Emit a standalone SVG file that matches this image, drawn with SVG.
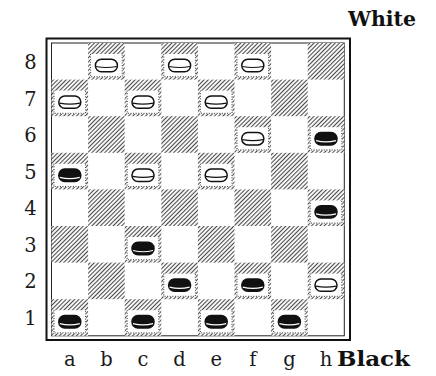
<svg xmlns="http://www.w3.org/2000/svg" width="436" height="376" viewBox="0 0 436 376">
<style>
.lbl{font-family:"DejaVu Serif","Liberation Serif",serif;font-size:19.5px;fill:#1a1a1a;text-anchor:middle}
.ttl{font-family:"DejaVu Serif","Liberation Serif",serif;font-size:20px;font-weight:bold;fill:#111}
.dot{fill:none;stroke:#333;stroke-width:1;stroke-dasharray:1 1.6}
</style>
<defs>
<pattern id="hatch" patternUnits="userSpaceOnUse" width="3" height="3" patternTransform="rotate(45)">
<rect width="3" height="3" fill="#fff"/>
<line x1="1.5" y1="0" x2="1.5" y2="3" stroke="#4a4a4a" stroke-width="1.1"/>
</pattern>
<g id="dk"><rect width="36.6" height="36.6" fill="url(#hatch)"/></g>
<g id="oc">
<rect width="36.6" height="36.6" fill="url(#hatch)"/>
<rect x="2" y="11" width="32.6" height="23.2" fill="#fff"/>
<path class="dot" d="M2.5,11 V33.7 H34.1 V11"/>
</g>
<g id="wp">
<rect x="-11" y="-6.2" width="22" height="12.4" rx="6" fill="#fff" stroke="#111" stroke-width="1.5"/>
<path d="M-10.3,1 Q0,3 10.3,1" fill="none" stroke="#111" stroke-width="1.2"/>
</g>
<g id="bp">
<rect x="-11" y="-6.2" width="22" height="12.4" rx="6" fill="#111" stroke="#111" stroke-width="1.5"/>
<path d="M-10,2 Q0,4.5 10,2" fill="none" stroke="#fff" stroke-width="1.2"/>
</g>
</defs>
<rect width="436" height="376" fill="#fff"/>
<text class="ttl" x="348" y="26" textLength="68" lengthAdjust="spacingAndGlyphs">White</text>
<g id="board">
<rect x="46.5" y="38.5" width="303.5" height="301.5" fill="#fff" stroke="#111" stroke-width="2"/>
<rect x="51.5" y="43" width="292.8" height="292.8" fill="#fff" stroke="#222" stroke-width="1"/>
</g>
<g id="squares">
<g id="b8" transform="translate(88.1,43)"><use href="#oc"/><use href="#wp" x="18.3" y="22.5"/></g>
<g id="d8" transform="translate(161.3,43)"><use href="#oc"/><use href="#wp" x="18.3" y="22.5"/></g>
<g id="f8" transform="translate(234.5,43)"><use href="#oc"/><use href="#wp" x="18.3" y="22.5"/></g>
<g id="h8" transform="translate(307.7,43)"><use href="#dk"/></g>
<g id="a7" transform="translate(51.5,79.6)"><use href="#oc"/><use href="#wp" x="18.3" y="22.5"/></g>
<g id="c7" transform="translate(124.7,79.6)"><use href="#oc"/><use href="#wp" x="18.3" y="22.5"/></g>
<g id="e7" transform="translate(197.9,79.6)"><use href="#oc"/><use href="#wp" x="18.3" y="22.5"/></g>
<g id="g7" transform="translate(271.1,79.6)"><use href="#dk"/></g>
<g id="b6" transform="translate(88.1,116.2)"><use href="#dk"/></g>
<g id="d6" transform="translate(161.3,116.2)"><use href="#dk"/></g>
<g id="f6" transform="translate(234.5,116.2)"><use href="#oc"/><use href="#wp" x="18.3" y="22.5"/></g>
<g id="h6" transform="translate(307.7,116.2)"><use href="#oc"/><use href="#bp" x="18.3" y="22.5"/></g>
<g id="a5" transform="translate(51.5,152.8)"><use href="#oc"/><use href="#bp" x="18.3" y="22.5"/></g>
<g id="c5" transform="translate(124.7,152.8)"><use href="#oc"/><use href="#wp" x="18.3" y="22.5"/></g>
<g id="e5" transform="translate(197.9,152.8)"><use href="#oc"/><use href="#wp" x="18.3" y="22.5"/></g>
<g id="g5" transform="translate(271.1,152.8)"><use href="#dk"/></g>
<g id="b4" transform="translate(88.1,189.4)"><use href="#dk"/></g>
<g id="d4" transform="translate(161.3,189.4)"><use href="#dk"/></g>
<g id="f4" transform="translate(234.5,189.4)"><use href="#dk"/></g>
<g id="h4" transform="translate(307.7,189.4)"><use href="#oc"/><use href="#bp" x="18.3" y="22.5"/></g>
<g id="a3" transform="translate(51.5,226)"><use href="#dk"/></g>
<g id="c3" transform="translate(124.7,226)"><use href="#oc"/><use href="#bp" x="18.3" y="22.5"/></g>
<g id="e3" transform="translate(197.9,226)"><use href="#dk"/></g>
<g id="g3" transform="translate(271.1,226)"><use href="#dk"/></g>
<g id="b2" transform="translate(88.1,262.6)"><use href="#dk"/></g>
<g id="d2" transform="translate(161.3,262.6)"><use href="#oc"/><use href="#bp" x="18.3" y="22.5"/></g>
<g id="f2" transform="translate(234.5,262.6)"><use href="#oc"/><use href="#bp" x="18.3" y="22.5"/></g>
<g id="h2" transform="translate(307.7,262.6)"><use href="#oc"/><use href="#wp" x="18.3" y="22.5"/></g>
<g id="a1" transform="translate(51.5,299.2)"><use href="#oc"/><use href="#bp" x="18.3" y="22.5"/></g>
<g id="c1" transform="translate(124.7,299.2)"><use href="#oc"/><use href="#bp" x="18.3" y="22.5"/></g>
<g id="e1" transform="translate(197.9,299.2)"><use href="#oc"/><use href="#bp" x="18.3" y="22.5"/></g>
<g id="g1" transform="translate(271.1,299.2)"><use href="#oc"/><use href="#bp" x="18.3" y="22.5"/></g>
</g>
<g id="ranks">
<text class="lbl" x="30.5" y="69">8</text>
<text class="lbl" x="30.5" y="105.5">7</text>
<text class="lbl" x="30.5" y="142">6</text>
<text class="lbl" x="30.5" y="178.5">5</text>
<text class="lbl" x="30.5" y="215">4</text>
<text class="lbl" x="30.5" y="251.5">3</text>
<text class="lbl" x="30.5" y="288">2</text>
<text class="lbl" x="30.5" y="324.5">1</text>
</g>
<g id="files">
<text class="lbl" x="69.8" y="366">a</text>
<text class="lbl" x="106.4" y="366">b</text>
<text class="lbl" x="143" y="366">c</text>
<text class="lbl" x="179.6" y="366">d</text>
<text class="lbl" x="216.2" y="366">e</text>
<text class="lbl" x="252.8" y="366">f</text>
<text class="lbl" x="289.4" y="366">g</text>
<text class="lbl" x="326" y="366">h</text>
<text class="ttl" x="337" y="366" textLength="73" lengthAdjust="spacingAndGlyphs">Black</text>
</g>
</svg>
